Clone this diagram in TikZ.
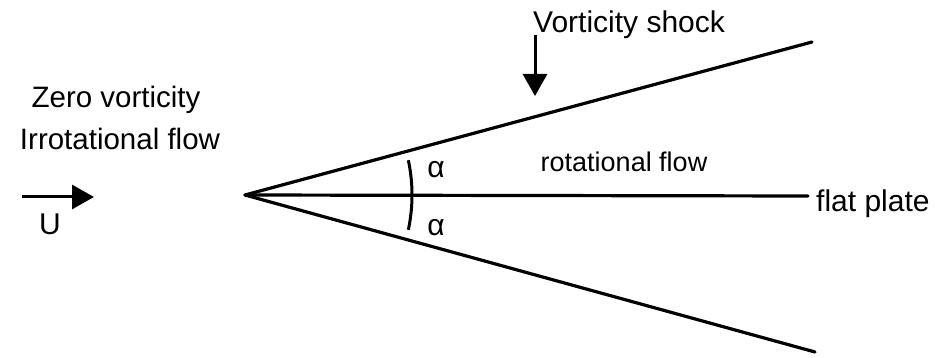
\documentclass[tikz,border=0pt]{standalone}
\usepackage{fontspec}
\setmainfont{Liberation Sans}
\usetikzlibrary{arrows.meta}
\begin{document}
\begin{tikzpicture}[x=1pt,y=-1pt,
  lbl/.style={inner sep=0pt,font=\fontsize{30}{33}\selectfont},
  thick line/.style={line width=3.2pt,line cap=round},
  big arrow/.style={line width=3pt,-{Triangle[length=22pt,width=24pt]}}]
\useasboundingbox (0,0) rectangle (935,358);
\coordinate (apex) at (245,195);
\coordinate (upEnd) at (812,42);
\coordinate (loEnd) at (815,352);
\coordinate (plEnd) at (808,196);
\draw[thick line] (apex) -- (upEnd);
\draw[thick line] (apex) -- (loEnd);
\draw[thick line] (apex) -- (plEnd);
\node[lbl,anchor=west] (plate) at (816,204) {flat plate};
\node[lbl,font=\fontsize{29.5}{32}\selectfont] (zero) at (116,100) {Zero vorticity};
\node[lbl,font=\fontsize{29.5}{32}\selectfont] (irrot) at (120,139) {Irrotational flow};
\node[lbl,font=\fontsize{27}{30}\selectfont] (rot) at (624,162) {rotational flow};
\node[lbl,anchor=west] (vs) at (533,25) {Vorticity shock};
\coordinate (vsTop) at (535,35);
\coordinate (vsTip) at (535,96);
\draw[big arrow] (vsTop) -- (vsTip);
\coordinate (uStart) at (22,197);
\coordinate (uTip) at (94,197);
\draw[big arrow] (uStart) -- (uTip);
\node[lbl] (U) at (50,224) {U};
\draw[line width=3pt] ([shift={(12:167)}]apex) arc[start angle=12,end angle=-12,radius=167];
\node[lbl] (a1) at (436,170) {α};
\node[lbl] (a2) at (436,228) {α};
\end{tikzpicture}
\end{document}
